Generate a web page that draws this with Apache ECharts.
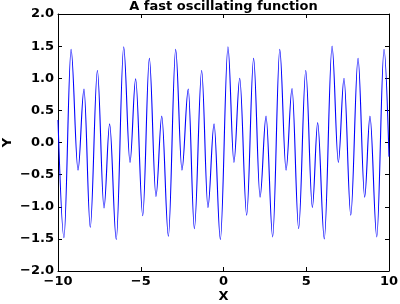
<!DOCTYPE html>
<html>
<head>
<meta charset="utf-8">
<script src="https://cdn.jsdelivr.net/npm/echarts@6/dist/echarts.min.js"></script>
<style>html,body{margin:0;padding:0;background:#fff}#c{width:400px;height:304px}</style>
</head>
<body>
<div id="c"></div>
<script>
// Local extrema of the curve (x, y)
var xs = [-10.00, -9.64, -9.21, -8.79, -8.43, -8.05, -7.62, -7.22, -6.88, -6.48,
          -6.03, -5.65, -5.31, -4.88, -4.48, -4.08, -3.73, -3.33, -2.89, -2.51,
          -2.13, -1.76, -1.32, -0.94, -0.57, -0.19, 0.27, 0.63, 0.98, 1.40,
          1.82, 2.21, 2.57, 2.97, 3.40, 3.78, 4.14, 4.54, 4.97, 5.37,
          5.69, 6.09, 6.56, 6.94, 7.28, 7.69, 8.13, 8.53, 8.85, 9.26,
          9.70, 10.00];
var ys = [0.35, -1.48, 1.45, -0.43, 0.83, -1.32, 1.12, -1.02, 0.29, -1.51,
          1.49, -0.31, 0.99, -1.14, 1.31, -0.84, 0.41, -1.46, 1.45, -0.43,
          0.83, -1.34, 1.12, -1.01, 0.29, -1.51, 1.49, -0.31, 1.00, -1.13,
          1.31, -0.85, 0.41, -1.47, 1.45, -0.43, 0.84, -1.34, 1.12, -1.01,
          0.31, -1.50, 1.50, -0.31, 1.00, -1.13, 1.31, -0.85, 0.41, -1.47,
          1.45, -0.22];
var xTicks = [-10, -5, 0, 5, 10];
var yTicks = [-2.0, -1.5, -1.0, -0.5, 0.0, 0.5, 1.0, 1.5, 2.0];
var titleText = 'A fast oscillating function';
var xName = 'X';
var yName = 'Y';

var data = xs.map(function (x, i) { return [x, ys[i]]; });
var FONT = 'DejaVu Sans';
function minus(s) { return String(s).replace('-', '\u2212'); }

var chart = echarts.init(document.getElementById('c'), null, {renderer: 'canvas'});
var tickStyle = {inside: true, length: 4, lineStyle: {color: '#000', width: 1}};
var lineStyle = {onZero: false, lineStyle: {color: '#000', width: 1}};
chart.setOption({
  animation: false,
  backgroundColor: '#fff',
  title: {
    text: titleText, left: 223.5, textAlign: 'center', top: 0, padding: 0,
    textStyle: {fontFamily: FONT, fontSize: 13, fontWeight: 'bold', color: '#000'}
  },
  grid: {left: 58, top: 14, width: 331, height: 257, containLabel: false, outerBoundsMode: 'none'},
  xAxis: [{
    type: 'value', min: xTicks[0], max: xTicks[xTicks.length - 1], interval: 5,
    position: 'bottom',
    axisLine: lineStyle, axisTick: tickStyle, splitLine: {show: false},
    axisLabel: {fontFamily: FONT, fontSize: 13, fontWeight: 'bold', color: '#000', margin: 4,
      formatter: function (v) { return minus(v); }},
    name: xName, nameLocation: 'middle', nameGap: 19, nameMoveOverlap: false,
    nameTextStyle: {fontFamily: FONT, fontSize: 13, fontWeight: 'bold', color: '#000'}
  }, {
    type: 'value', min: xTicks[0], max: xTicks[xTicks.length - 1], interval: 5,
    position: 'top',
    axisLine: lineStyle, axisTick: tickStyle, splitLine: {show: false},
    axisLabel: {show: false}
  }],
  yAxis: [{
    type: 'value', min: yTicks[0], max: yTicks[yTicks.length - 1], interval: 0.5,
    position: 'left',
    axisLine: lineStyle, axisTick: tickStyle, splitLine: {show: false},
    axisLabel: {fontFamily: FONT, fontSize: 13, fontWeight: 'bold', color: '#000', margin: 4,
      formatter: function (v) { return minus(v.toFixed(1)); }},
    name: yName, nameLocation: 'middle', nameGap: 44, nameRotate: 90, nameMoveOverlap: false,
    nameTextStyle: {fontFamily: FONT, fontSize: 13, fontWeight: 'bold', color: '#000'}
  }, {
    type: 'value', min: yTicks[0], max: yTicks[yTicks.length - 1], interval: 0.5,
    position: 'right',
    axisLine: lineStyle, axisTick: tickStyle, splitLine: {show: false},
    axisLabel: {show: false}
  }],
  series: [{
    type: 'line', data: data, xAxisIndex: 0, yAxisIndex: 0,
    showSymbol: false, symbol: 'none',
    smooth: 0.36, smoothMonotone: 'x',
    lineStyle: {color: '#0000ff', width: 1.1},
    clip: true
  }]
});
</script>
</body>
</html>
